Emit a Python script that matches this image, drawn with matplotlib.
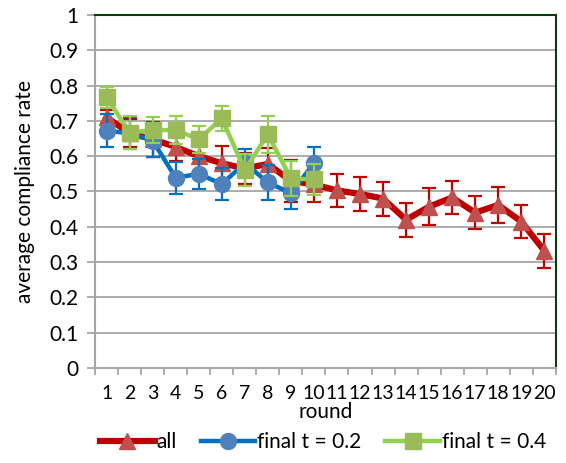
import matplotlib
matplotlib.use("Agg")
import matplotlib.pyplot as plt
import numpy as np

plt.rcParams['font.family'] = ['Lato', 'DejaVu Sans']

rounds = list(range(1, 21))

all_rate = [0.71, 0.665, 0.648, 0.626, 0.60, 0.58, 0.565, 0.578, 0.53, 0.52,
            0.503, 0.493, 0.48, 0.42, 0.457, 0.483, 0.44, 0.462, 0.415, 0.332]
all_err = [0.02, 0.04, 0.05, 0.04, 0.045, 0.05, 0.045, 0.045, 0.06, 0.05,
           0.047, 0.047, 0.048, 0.048, 0.053, 0.048, 0.047, 0.051, 0.048, 0.049]

t02_rate = [0.672, 0.665, 0.644, 0.539, 0.55, 0.521, 0.58, 0.526, 0.495, 0.58]
t02_err = [0.047, 0.045, 0.047, 0.045, 0.042, 0.045, 0.04, 0.05, 0.045, 0.047]

t04_rate = [0.767, 0.667, 0.674, 0.674, 0.648, 0.707, 0.561, 0.662, 0.537, 0.534]
t04_err = [0.03, 0.046, 0.036, 0.04, 0.038, 0.036, 0.045, 0.052, 0.05, 0.044]

y_ticks = [0, 0.1, 0.2, 0.3, 0.4, 0.5, 0.6, 0.7, 0.8, 0.9, 1]
y_tick_labels = ["0", "0.1", "0.2", "0.3", "0.4", "0.5", "0.6", "0.7", "0.8", "0.9", "1"]

FS = 15

fig = plt.figure(figsize=(5.66, 4.63), dpi=100)
ax = fig.add_axes([0.168, 0.2052, 0.814, 0.7624])

grid_color = "#a6a6a6"
ax.set_ylim(0, 1)
ax.set_xlim(0.5, 20.5)
ax.set_yticks(y_ticks)
ax.set_yticklabels(y_tick_labels)
ax.yaxis.grid(True, color=grid_color, linewidth=1.3, zorder=0)
ax.set_axisbelow(True)

# category ticks at boundaries, labels at centers
ax.set_xticks(np.arange(0.5, 21, 1.0))
ax.set_xticklabels([])
ax.set_xticks(rounds, minor=True)
ax.set_xticklabels([str(r) for r in rounds], minor=True)
ax.tick_params(axis='x', which='minor', length=0, pad=12, labelsize=14)
ax.tick_params(axis='x', which='major', length=5, width=1.3, color=grid_color, direction='out')
ax.tick_params(axis='y', length=6, width=1.3, color=grid_color, direction='out', labelsize=FS, pad=6)

for side in ("left", "bottom"):
    ax.spines[side].set_color(grid_color)
    ax.spines[side].set_linewidth(1.5)
for side in ("top", "right"):
    ax.spines[side].set_color("#0b3d0b")
    ax.spines[side].set_linewidth(1.5)

ax.errorbar(rounds, all_rate, yerr=all_err, color="#c00000", linewidth=4.5,
            marker="^", markersize=12, markerfacecolor="#c0504d", markeredgecolor="#c0504d",
            ecolor="#c00000", elinewidth=1.6, capsize=5, capthick=1.6, label="all", zorder=3)
ax.errorbar(rounds[:10], t02_rate, yerr=t02_err, color="#0070c0", linewidth=3.2,
            marker="o", markersize=11.5, markerfacecolor="#4f81bd", markeredgecolor="#4f81bd",
            ecolor="#0070c0", elinewidth=1.6, capsize=5, capthick=1.6, label="final t = 0.2", zorder=4)
ax.errorbar(rounds[:10], t04_rate, yerr=t04_err, color="#92d050", linewidth=3.2,
            marker="s", markersize=11.5, markerfacecolor="#9bbb59", markeredgecolor="#9bbb59",
            ecolor="#92d050", elinewidth=1.6, capsize=5, capthick=1.6, label="final t = 0.4", zorder=5)

ax.set_xlabel("round", fontsize=FS, labelpad=0)
ax.set_ylabel("average compliance rate", fontsize=FS, labelpad=10)

handles, labels = ax.get_legend_handles_labels()
handles = [h[0] for h in handles]
fig.legend(handles, labels, loc="center", bbox_to_anchor=(0.571, 0.045), ncol=3,
           frameon=False, fontsize=FS, handlelength=2.6, handletextpad=0.1, columnspacing=1.15,
           borderaxespad=0)

fig.savefig("out.png", dpi=100)
